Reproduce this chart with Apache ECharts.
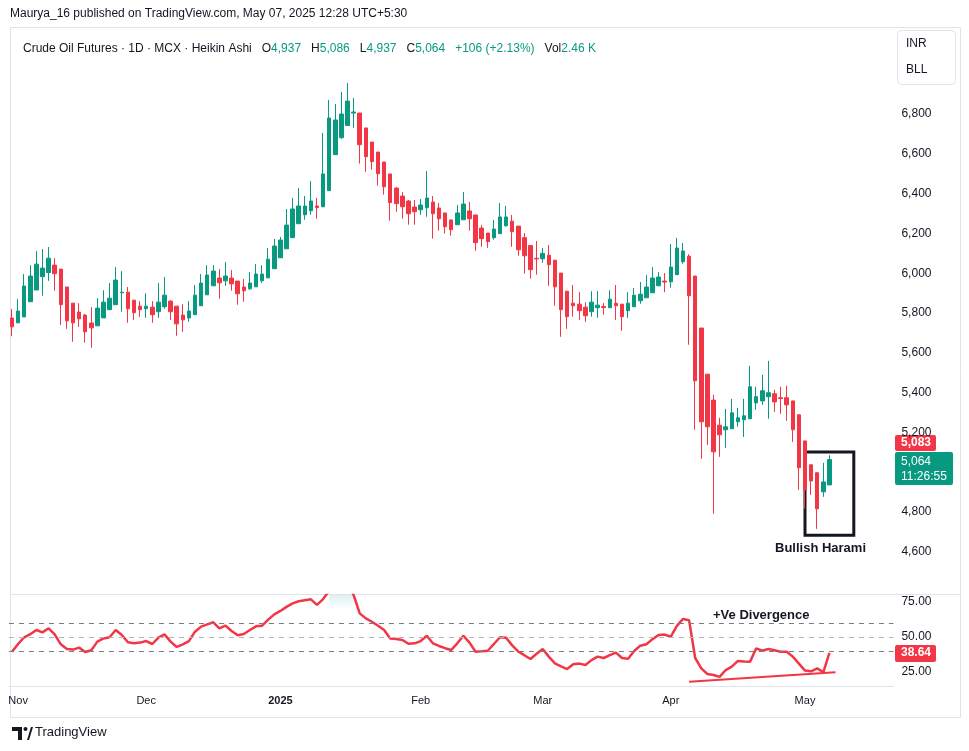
<!DOCTYPE html>
<html>
<head>
<meta charset="utf-8">
<script src="https://cdn.jsdelivr.net/npm/echarts@6/dist/echarts.min.js"></script>
<style>
  html, body { margin: 0; padding: 0; background: #fff; }
  #main { width: 969px; height: 751px; }
</style>
</head>
<body>
<div id="main"></div>
<script>
// Heikin Ashi candles, one per trading day from 2024-10-31
var opens = [5775,5751,5781,5857,5916,5983,6003,6041,6021,5931,5850,5805,5790,5750,5736,5776,5817,5842,5902,5905,
  5865,5835,5822,5830,5807,5832,5860,5835,5790,5776,5792,5837,5892,5937,5976,5962,5976,5961,5931,5922,
  5932,5962,5977,6023,6078,6123,6179,6249,6294,6314,6338,6334,6415,6596,6681,6742,6805,6805,6730,6659,
  6609,6559,6499,6428,6388,6363,6333,6319,6329,6358,6328,6303,6268,6244,6269,6313,6293,6227,6202,6179,
  6199,6239,6262,6237,6179,6139,6075,6073,6091,6066,6001,5910,5850,5845,5830,5807,5827,5833,5827,5850,
  5845,5812,5832,5862,5877,5902,5937,5961,5957,5993,6058,6086,5986,5725,5493,5363,5237,5214,5219,5254,
  5264,5269,5349,5359,5380,5395,5375,5375,5359,5289,5158,5038,4998,4902,4937];
var closes = [5731,5810,5936,5986,6046,6026,6076,5998,5842,5761,5751,5771,5706,5726,5825,5855,5875,5966,5905,5822,
  5802,5817,5835,5792,5855,5890,5807,5746,5766,5810,5890,5951,5991,6011,5952,5986,5947,5897,5912,5951,
  5996,5996,6071,6137,6167,6242,6323,6338,6338,6363,6330,6499,6780,6770,6800,6865,6810,6646,6586,6561,
  6500,6435,6355,6350,6334,6299,6309,6343,6378,6299,6274,6234,6219,6303,6348,6274,6154,6174,6159,6222,
  6283,6283,6209,6118,6088,6018,6072,6100,6043,5932,5817,5782,5837,5812,5787,5855,5840,5828,5870,5837,
  5782,5850,5890,5895,5931,5976,5981,5956,6031,6127,6112,5887,5460,5254,5229,5103,5189,5229,5299,5274,
  5284,5430,5380,5410,5400,5354,5371,5339,5214,5023,4912,4957,4817,4952,5064];
var lows = [5684,5751,5781,5857,5916,5887,5962,5912,5740,5721,5656,5731,5652,5626,5736,5776,5817,5842,5807,5751,
  5766,5781,5776,5751,5776,5822,5766,5686,5706,5756,5792,5837,5892,5937,5872,5937,5912,5842,5857,5917,
  5932,5952,5977,6023,6078,6123,6179,6249,6269,6294,6274,6334,6415,6596,6676,6742,6731,6551,6510,6520,
  6440,6395,6264,6309,6274,6244,6244,6294,6284,6174,6214,6199,6189,6244,6269,6214,6113,6133,6128,6169,
  6199,6234,6133,6088,5998,5973,5993,6053,5937,5837,5681,5721,5782,5766,5756,5782,5776,5792,5827,5766,
  5711,5776,5832,5847,5877,5902,5937,5905,5927,5993,6048,5641,5214,5068,5138,4792,5078,5123,5219,5229,
  5178,5269,5314,5339,5269,5304,5294,5259,5153,4912,4817,4887,4716,4877,4937];
var highs = [5820,5870,5996,6041,6111,6122,6132,6076,6021,5931,5850,5850,5795,5830,5875,5915,5951,6031,6011,5931,
  5865,5860,5900,5860,5951,5981,5865,5835,5845,5860,5941,5996,6041,6041,6021,6056,6016,5961,5971,6006,
  6046,6041,6127,6172,6182,6323,6378,6428,6388,6463,6378,6705,6871,6850,6911,6956,6881,6805,6730,6659,
  6609,6559,6499,6433,6408,6368,6368,6373,6514,6388,6353,6303,6268,6343,6408,6358,6293,6242,6202,6268,
  6353,6338,6293,6237,6202,6139,6162,6127,6142,6066,6001,5910,5941,5905,5855,5910,5910,5850,5915,5941,
  5845,5905,5926,5956,5991,6031,6006,6001,6147,6177,6152,6096,5986,5725,5493,5390,5274,5319,5369,5324,
  5369,5535,5430,5490,5560,5415,5430,5435,5359,5289,5158,5038,4998,5048,5086];
// RSI (14)
var rsi = [39.5,45,49.8,52,55,53.3,56.2,51.9,44.8,41.4,41,42.4,39.3,40.5,46.7,49,49.8,55,51.4,46.2,
  45.5,46,47.1,45,49.5,51.9,46.7,42.9,44.8,47.1,53.8,57.4,59,60.5,56.2,58.1,54.3,51.2,52.1,55,
  57.6,58.1,62.4,66.2,68.6,71.5,74,75.5,76.2,76.9,72.9,77.1,83,86,87,88,80,66.9,63.3,60.9,
  58,55,49,48.5,47.9,45.2,45.5,47.1,50.9,45.5,43.6,42,40.7,45.5,50.9,46,39.5,39.8,40.2,45,
  49.8,49.5,44,39.5,37,34.3,38,41.4,36,31.2,29,27.1,30.5,31,30,33.5,36,35,37,38.8,
  35,34.5,40,43.8,44.8,48.5,51.4,51.7,50.2,58,62.9,61.9,35,27.6,23.6,22.9,21.5,26.4,28.8,32.9,
  32.5,32.4,41.9,40.2,41.4,40.5,39.5,39.5,36,31,26,25.5,27.6,24.8,38.64];
// 5,000 is hidden behind the last-price tags in the original
var priceTicks = [4600,4800,5200,5400,5600,5800,6000,6200,6400,6600,6800];
var rsiTicks = [25,50,75];

var UP = '#089981', DOWN = '#f23645';

// trading days (weekdays), with empty space to the right of the last bar
var dates = [];
var d = new Date(2024, 9, 31);
while (dates.length < 145) {
  var wd = d.getDay();
  if (wd !== 0 && wd !== 6) {
    dates.push(d.getFullYear() + '-' + (d.getMonth() + 1) + '-' + d.getDate());
  }
  d.setDate(d.getDate() + 1);
}
function monthStart(i) {
  if (i === 0) return false;
  return dates[i].split('-')[1] !== dates[i - 1].split('-')[1];
}

var candles = opens.map(function (o, i) { return [o, closes[i], lows[i], highs[i]]; });
// overbought fill, only where the line leaves the pane
var obBase = rsi.map(function (v) { return v > 78 ? 70 : '-'; });
var obFill = rsi.map(function (v) { return v > 78 ? v - 70 : '-'; });

var chart = echarts.init(document.getElementById('main'));
var font = 'Liberation Sans, Arial, sans-serif';

var option = {
  animation: false,
  textStyle: { fontFamily: font },
  title: {
    left: 18, top: 35,
    text: '{d|Crude Oil Futures · 1D · MCX · Heikin Ashi}  {d|O}{g|4,937}  {d|H}{g|5,086}  {d|L}{g|4,937}  {d|C}{g|5,064}  {g|+106 (+2.13%)}  {d|Vol}{g|2.46 K}',
    textStyle: {
      fontWeight: 'normal',
      rich: {
        d: { color: '#131722', fontSize: 12, fontWeight: 'normal', fontFamily: font },
        g: { color: UP, fontSize: 12, fontWeight: 'normal', fontFamily: font }
      }
    }
  },
  grid: [
    { left: 8.95, width: 884.5, top: 34.4, height: 557.4 },
    { left: 8.95, width: 884.5, top: 595, height: 91 }
  ],
  xAxis: [
    { type: 'category', gridIndex: 0, data: dates, axisLine: { show: false }, axisTick: { show: false },
      axisLabel: { show: false }, splitLine: { show: false } },
    { type: 'category', gridIndex: 1, data: dates,
      axisLine: { show: true, lineStyle: { color: '#e0e3eb' } }, axisTick: { show: false },
      axisLabel: {
        interval: function (i) { return monthStart(i); },
        formatter: function (v) {
          var m = +v.split('-')[1];
          return m === 1 ? '{b|2025}' : ['', '', 'Feb', 'Mar', 'Apr', 'May', 'Jun', 'Jul', 'Aug', 'Sep', 'Oct', 'Nov', 'Dec'][m];
        },
        color: '#131722', fontSize: 11, margin: 9,
        rich: { b: { fontWeight: 'bold', fontSize: 11, color: '#131722' } }
      },
      splitLine: { show: false } }
  ],
  yAxis: [
    { type: 'value', gridIndex: 0, position: 'right', min: 4400, max: 7200, interval: 200,
      axisLine: { show: false }, axisTick: { show: false }, splitLine: { show: false },
      axisLabel: {
        color: '#131722', fontSize: 12, margin: 8,
        formatter: function (v) { return priceTicks.indexOf(v) >= 0 ? echarts.format.addCommas(v) : ''; }
      } },
    { type: 'value', gridIndex: 1, position: 'right', min: 15, max: 80, interval: 5,
      axisLine: { show: false }, axisTick: { show: false }, splitLine: { show: false },
      axisLabel: {
        color: '#131722', fontSize: 12, margin: 8,
        formatter: function (v) { return rsiTicks.indexOf(v) >= 0 ? v.toFixed(2) : ''; }
      } }
  ],
  series: [
    {
      type: 'candlestick', xAxisIndex: 0, yAxisIndex: 0, data: candles, barWidth: 4,
      itemStyle: { color: UP, color0: DOWN, borderColor: UP, borderColor0: DOWN, borderWidth: 1 },
      markArea: {
        silent: true,
        itemStyle: { color: 'rgba(0,0,0,0)', borderColor: '#131722', borderWidth: 3 },
        data: [[{ coord: [129.5, 5102] }, { coord: [137.5, 4684] }]]
      }
    },
    {
      type: 'line', xAxisIndex: 1, yAxisIndex: 1, data: obBase, stack: 'ob', symbol: 'none',
      lineStyle: { width: 0 }, silent: true
    },
    {
      type: 'line', xAxisIndex: 1, yAxisIndex: 1, data: obFill, stack: 'ob', symbol: 'none',
      lineStyle: { width: 0 }, silent: true,
      areaStyle: { color: new echarts.graphic.LinearGradient(0, 0, 0, 1, [
        { offset: 0, color: 'rgba(8,153,129,0.35)' }, { offset: 1, color: 'rgba(8,153,129,0)' }]) }
    },
    {
      type: 'line', xAxisIndex: 1, yAxisIndex: 1, data: rsi, symbol: 'none',
      lineStyle: { color: DOWN, width: 2.5 },
      markLine: {
        silent: true, symbol: 'none', label: { show: false },
        data: [
          { yAxis: 60, lineStyle: { color: '#787b86', type: [5, 5], width: 1 } },
          { yAxis: 50, lineStyle: { color: '#b2b5be', type: [5, 5], width: 1 } },
          { yAxis: 40, lineStyle: { color: '#787b86', type: [5, 5], width: 1 } },
          [{ coord: [110.6, 18.1], lineStyle: { color: DOWN, width: 2, type: 'solid' } }, { coord: [134.8, 24.8] }]
        ]
      }
    }
  ],
  graphic: [
    { type: 'text', left: 10, top: 8, style: { text: 'Maurya_16 published on TradingView.com, May 07, 2025 12:28 UTC+5:30', fill: '#131722', font: '12px ' + font } },
    { type: 'rect', shape: { x: 10.5, y: 27.5, width: 950, height: 690 }, style: { fill: 'none', stroke: '#e0e3eb', lineWidth: 1 }, z: -1 },
    { type: 'line', shape: { x1: 10, y1: 594.5, x2: 960, y2: 594.5 }, style: { stroke: '#e0e3eb', lineWidth: 1 } },
    { type: 'group', z: 100, children: [
      { type: 'rect', shape: { x: 897.5, y: 30.5, width: 58, height: 54, r: 4 }, style: { fill: '#fff', stroke: '#e0e3eb' } },
      { type: 'text', x: 906, y: 38, style: { text: 'INR', fill: '#131722', font: '12px ' + font } },
      { type: 'text', x: 906, y: 64, style: { text: 'BLL', fill: '#131722', font: '12px ' + font } },
      { type: 'rect', shape: { x: 895, y: 435, width: 41, height: 16, r: 2 }, style: { fill: DOWN } },
      { type: 'text', x: 901, y: 437, style: { text: '5,083', fill: '#fff', font: 'bold 12px ' + font } },
      { type: 'rect', shape: { x: 895, y: 452, width: 58, height: 33, r: 2 }, style: { fill: UP } },
      { type: 'text', x: 901, y: 454, style: { text: '5,064\n11:26:55', fill: '#fff', font: '12px ' + font, lineHeight: 15 } },
      { type: 'rect', shape: { x: 895, y: 645, width: 41, height: 17, r: 2 }, style: { fill: DOWN } },
      { type: 'text', x: 901, y: 647, style: { text: '38.64', fill: '#fff', font: 'bold 12px ' + font } }
    ] },
    { type: 'text', x: 775, y: 542, style: { text: 'Bullish Harami', fill: '#131722', font: 'bold 13px ' + font } },
    { type: 'text', x: 713, y: 609, style: { text: '+Ve Divergence', fill: '#131722', font: 'bold 13px ' + font } },
    { type: 'polygon', shape: { points: [[12, 727], [22, 727], [22, 740], [18, 740], [18, 731], [12, 731]] }, style: { fill: '#131722' } },
    { type: 'circle', shape: { cx: 25.5, cy: 729, r: 2 }, style: { fill: '#131722' } },
    { type: 'polygon', shape: { points: [[27, 740], [31, 727], [33, 727], [29, 740]] }, style: { fill: '#131722' } },
    { type: 'text', x: 35, y: 726, style: { text: 'TradingView', fill: '#131722', font: '13px ' + font } }
  ]
};

chart.setOption(option);
</script>
</body>
</html>
